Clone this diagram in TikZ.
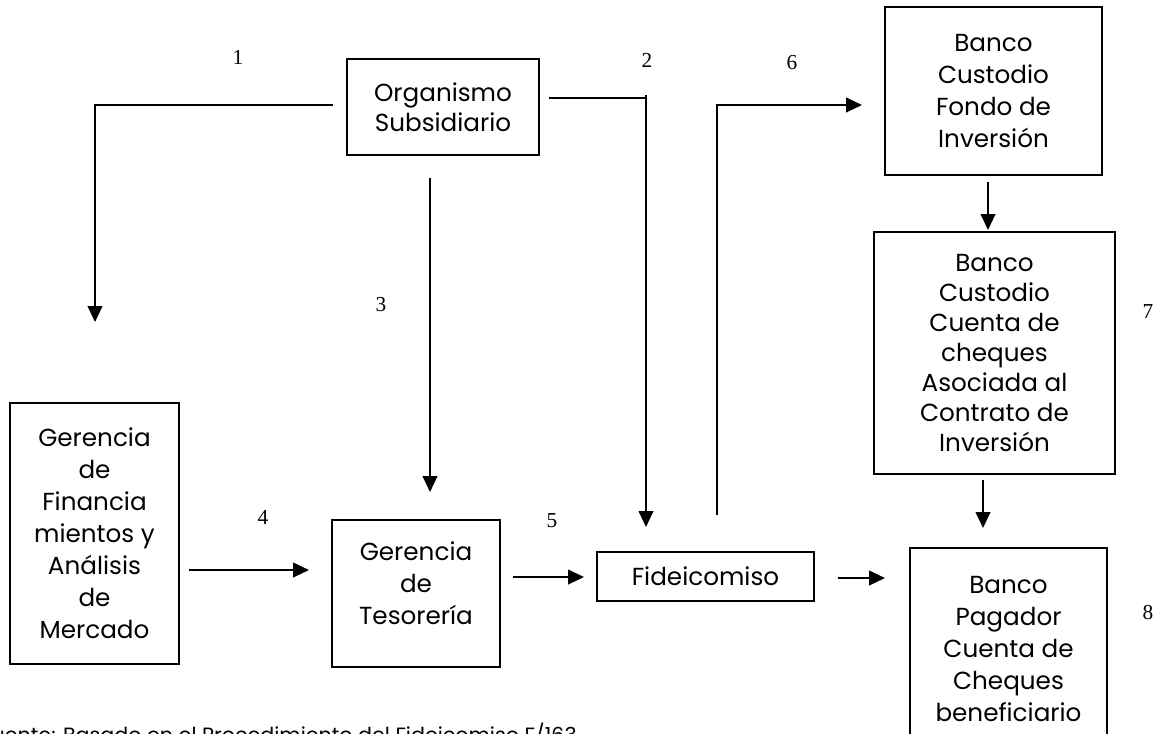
\documentclass[tikz,border=0pt]{standalone}
\usepackage{fontspec}
\setmainfont{Poppins}
\newfontfamily\numfont{Liberation Serif}
\usetikzlibrary{arrows.meta,calc}

\begin{document}
\begin{tikzpicture}[x=0.75pt,y=-0.75pt,
  box/.style={draw, line width=1.5pt, align=center, inner sep=0pt,
              font=\fontsize{18.5}{24}\selectfont},
  tight/.style={font=\fontsize{18.5}{22.5}\selectfont},
  arr/.style={line width=1.5pt, -{Triangle[length=12pt,width=11pt]}},
  lin/.style={line width=1.5pt},
  num/.style={font=\numfont\fontsize{16}{18}\selectfont, inner sep=0pt}]
\useasboundingbox (0,0) rectangle (1162,733);

% boxes
\node[box, tight, minimum width=144pt, minimum height=72pt] (org) at (443,107)
  {Organismo\\Subsidiario};
\node[box, minimum width=162.75pt, minimum height=126pt] (fondo) at (993.5,91)
  {Banco\\Custodio\\Fondo de\\Inversión};
\node[box, tight, minimum width=180.75pt, minimum height=181.5pt] (cuenta) at (994.5,353)
  {Banco\\Custodio\\Cuenta de\\cheques\\Asociada al\\Contrato de\\Inversión};
\node[box, minimum width=147.75pt, minimum height=151.5pt] (pagador) at (1008.5,649)
  {Banco\\Pagador\\Cuenta de\\Cheques\\beneficiario};
\node[box, minimum width=162.75pt, minimum height=36.75pt] (fide) at (705.5,576.5)
  {Fideicomiso};
\node[box, minimum width=126pt, minimum height=110.25pt] (tes) at (416,593.5)
  {Gerencia\\de\\Tesorería\\[-9pt]};
\node[box, minimum width=126.75pt, minimum height=195.75pt] (fin) at (94.5,533.5)
  {Gerencia\\de\\Financia\\mientos y\\Análisis\\de\\Mercado};

% connector ends
\coordinate (c1s) at (333,105);  \coordinate (c1e) at (95,322);
\coordinate (c2s) at (549,98);   \coordinate (c2k) at (646,98);
\coordinate (c2t) at (646,95);   \coordinate (c2e) at (646,527);
\coordinate (c3s) at (430,178);  \coordinate (c3e) at (430,492);
\coordinate (c4s) at (189,570);  \coordinate (c4e) at (309,570);
\coordinate (c5s) at (513,577);  \coordinate (c5e) at (584,577);
\coordinate (c6s) at (717,515);  \coordinate (c6e) at (862,105);
\coordinate (cfp) at (838,578);  \coordinate (cfpe) at (885,578);
\coordinate (cfc) at (988,182);  \coordinate (cfce) at (988,230);
\coordinate (ccp) at (983,480);  \coordinate (ccpe) at (983,528);

% connectors
\draw[arr] (c1s) -| (c1e);
\draw[lin] (c2s) -- (c2k);
\draw[arr] (c2t) -- (c2e);
\draw[arr] (c3s) -- (c3e);
\draw[arr] (c4s) -- (c4e);
\draw[arr] (c5s) -- (c5e);
\draw[arr] (c6s) |- (c6e);
\draw[arr] (cfp) -- (cfpe);
\draw[arr] (cfc) -- (cfce);
\draw[arr] (ccp) -- (ccpe);

% step numbers
\node[num] (n1) at (238,57) {1};
\node[num] (n2) at (647,60) {2};
\node[num] (n6) at (792,63) {6};
\node[num] (n3) at (381,305) {3};
\node[num] (n4) at (263,517) {4};
\node[num] (n5) at (552,521) {5};
\node[num] (n7) at (1148,312) {7};
\node[num] (n8) at (1148,612) {8};

% source line
\node[anchor=base east, inner sep=0pt, font=\fontsize{15.5}{17}\selectfont] (src) at (577,742)
  {Fuente: Basado en el Procedimiento del Fideicomiso F/163};
\end{tikzpicture}
\end{document}
